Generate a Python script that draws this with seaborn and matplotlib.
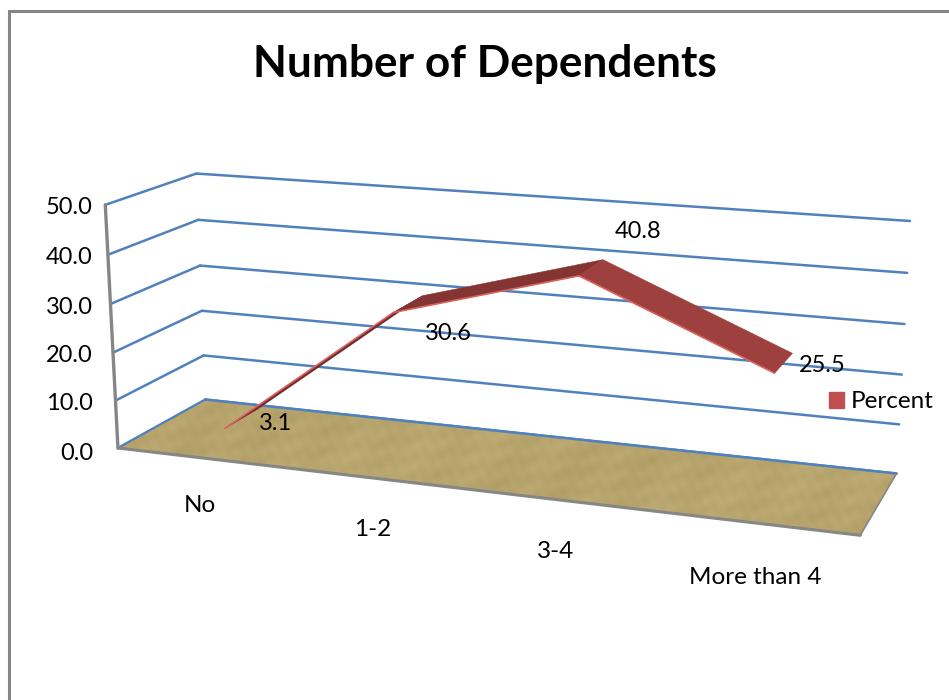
import numpy as np
import matplotlib
matplotlib.use("Agg")
import matplotlib.pyplot as plt
from matplotlib.patches import Patch, Polygon
from matplotlib.transforms import Transform
import seaborn as sns

# Chart content
categories = ["No", "1-2", "3-4", "More than 4"]
percent = [3.1, 30.6, 40.8, 25.5]
value_ticks = [0, 10, 20, 30, 40, 50]
title = "Number of Dependents"
series_name = "Percent"

# Layout of the 3D box: (category position, depth, value) -> canvas pixel
box_points = [
    (0, 0, 50, 105.0, 204.3), (0, 0, 40, 108.3, 255.0), (0, 0, 30, 111.0, 304.0),
    (0, 0, 20, 113.3, 352.7), (0, 0, 10, 116.0, 400.0), (0, 0, 0, 116.7, 448.3),
    (0, 1, 50, 196.7, 173.3), (0, 1, 40, 197.7, 220.0), (0, 1, 30, 199.3, 266.0),
    (0, 1, 20, 201.7, 311.0), (0, 1, 10, 204.0, 355.7), (0, 1, 0, 206.0, 399.3),
    (4, 1, 50, 910.0, 221.0), (4, 1, 40, 907.3, 273.3), (4, 1, 30, 904.3, 324.0),
    (4, 1, 20, 901.7, 374.0), (4, 1, 10, 899.3, 424.7), (4, 1, 0, 896.7, 472.7),
    (4, 0, 0, 860.0, 536.0),
]
ribbon_depth = (0.28, 0.68)
tick_label_xy = [(93, 453), (93, 403), (93, 355), (93, 307), (93, 258), (93, 208)]
category_label_xy = [(200, 506), (373, 529), (556, 551), (755, 577)]
value_label_xy = [(276, 424), (448, 334), (638, 231), (822, 365)]

GRID = "#4F81BD"
FRAME = "#868686"
FLOOR = "#B8A56E"
SERIES = "#C0504D"
EDGE = "#DC625E"
SEGMENT_FACES = ["#6E2B2A", "#843533", "#9E413E"]


def fit_projection(points):
    rows = []
    for x, d, z, u, v in points:
        rows.append([x, d, z, 1, 0, 0, 0, 0, -u * x, -u * d, -u * z, -u])
        rows.append([0, 0, 0, 0, x, d, z, 1, -v * x, -v * d, -v * z, -v])
    return np.linalg.svd(np.array(rows))[2][-1].reshape(3, 4)


P = fit_projection(box_points)


def project(x, d, z):
    q = P @ np.vstack([np.asarray(x, float), np.asarray(d, float),
                       np.asarray(z, float), np.ones_like(np.asarray(x, float))])
    return q[0] / q[2], q[1] / q[2]


class DepthPlane(Transform):
    """Maps (category position, value) on a plane of fixed depth to pixels."""
    input_dims = output_dims = 2

    def __init__(self, plane_depth):
        super().__init__()
        self.plane_depth = plane_depth

    def transform_non_affine(self, values):
        values = np.asarray(values, float)
        u, v = project(values[:, 0], np.full(len(values), self.plane_depth), values[:, 1])
        return np.column_stack([u, v])

    def transform(self, values):
        return self.transform_non_affine(values)


sns.set_theme(style="white")
plt.rcParams["font.family"] = ["Lato", "DejaVu Sans"]

fig = plt.figure(figsize=(9.49, 7.0), dpi=100)
ax = fig.add_axes([0, 0, 1, 1])

# Outer chart frame: top and left sides
ax.plot([9.5, 9.5, 949], [700, 11, 11], color=FRAME, lw=2.2, solid_joinstyle="miter")

# Gridlines on side and back walls
back = DepthPlane(1) + ax.transData
for tick in value_ticks:
    u, v = project([0, 0], [0, 1], [tick, tick])
    ax.plot(u, v, color=GRID, lw=1.8, zorder=2)
    ax.plot([0, 4], [tick, tick], color=GRID, lw=1.8, transform=back, zorder=2)

# Floor with a soft woven finish
u, v = project([0, 4, 4, 0], [0, 0, 1, 1], [0, 0, 0, 0])
gx, gy = np.meshgrid(np.arange(100, 910), np.arange(390, 545))
weave = (np.sin(gx * 0.071 + gy * 0.19) * np.sin(gx * 0.023 - gy * 0.131)
         + 0.6 * np.sin(gx * 0.37 + gy * 0.053) * np.sin(gy * 0.29 - gx * 0.11)
         + 0.4 * np.sin(gx * 0.013 + gy * 0.047))
base = np.array([0xB8, 0xA5, 0x6E]) / 255
texture = np.clip(base[None, None, :] + (weave * 0.016)[..., None], 0, 1)
img = ax.imshow(texture, extent=(100, 910, 545, 390), interpolation="bilinear", aspect="auto", zorder=3)
clip = Polygon(np.column_stack([u, v]), closed=True, transform=ax.transData, fc="none", ec="none")
ax.add_patch(clip)
img.set_clip_path(clip)

# Grey axis edges and the blue floor outline
u, v = project([0, 0], [0, 1], [0, 0])
ax.plot(u, v, color=GRID, lw=1.4, zorder=3)
u, v = project([0, 4], [1, 1], [0, 0])
ax.plot(u, v, color=GRID, lw=1.8, zorder=3)
u, v = project([4, 4], [0, 1], [0, 0])
ax.plot(u, v, color=FRAME, lw=1.2, zorder=3)
u, v = project([0, 4], [0, 0], [0, 0])
ax.plot(u, v, color=FRAME, lw=2.2, zorder=4)
u, v = project([0, 0], [0, 0], [0, 50])
ax.plot(u, v, color=FRAME, lw=2.4, zorder=4)

# Ribbon for the series: one face between each pair of categories
pos = np.arange(len(categories)) + 0.5
d0, d1 = ribbon_depth
for i in range(len(pos) - 1):
    xs = [pos[i], pos[i + 1], pos[i + 1], pos[i]]
    ds = [d0, d0, d1, d1]
    zs = [percent[i], percent[i + 1], percent[i + 1], percent[i]]
    u, v = project(xs, ds, zs)
    ax.fill(u, v, color=SEGMENT_FACES[i], lw=0.4, zorder=5)

sns.lineplot(x=pos, y=percent, ax=ax, color=EDGE, lw=1.2, sort=False, estimator=None,
             transform=DepthPlane(d0) + ax.transData, zorder=6)

# Text
ax.text(485, 64, title, fontsize=31.8, fontweight="bold", ha="center", va="center", color="black", zorder=8)
for tick, (x, y) in zip(value_ticks, tick_label_xy):
    ax.text(x, y, f"{tick:.1f}", fontsize=17, ha="right", va="center", color="black", zorder=8)
for name, (x, y) in zip(categories, category_label_xy):
    ax.text(x, y, name, fontsize=17.5, ha="center", va="center", color="black", zorder=8)
for val, (x, y) in zip(percent, value_label_xy):
    ax.text(x, y, f"{val:.1f}", fontsize=17, ha="center", va="center", color="black", zorder=8)

legend = ax.legend(handles=[Patch(color=SERIES, label=series_name)], loc="center left",
                   bbox_to_anchor=(829 / 949, 1 - 402 / 700), frameon=False, fontsize=17.5,
                   handlelength=0.62, handleheight=0.62, handletextpad=0.29, borderpad=0, borderaxespad=0)
for text in legend.get_texts():
    text.set_color("black")

ax.set_xlim(0, 949)
ax.set_ylim(700, 0)
ax.axis("off")
fig.savefig("out.png", dpi=100)
